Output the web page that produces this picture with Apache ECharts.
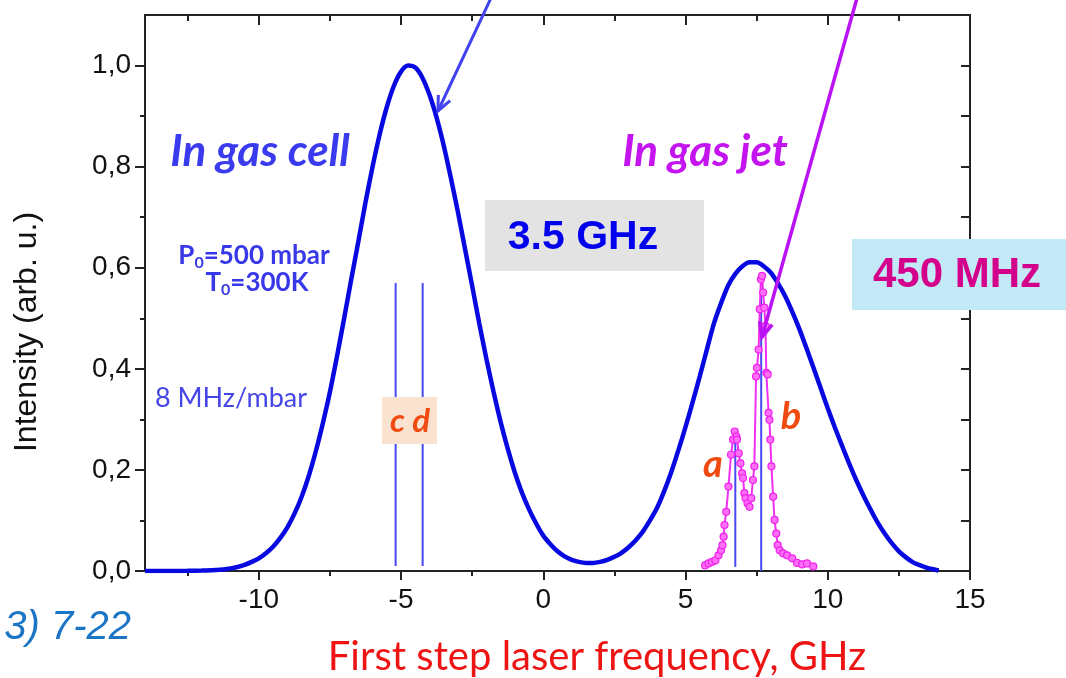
<!DOCTYPE html>
<html><head><meta charset="utf-8">
<script src="https://cdn.jsdelivr.net/npm/echarts@6/dist/echarts.min.js"></script>
<style>html,body{margin:0;padding:0;background:#fff;}#c{width:1066px;height:678px;}</style>
</head><body><div id="c"></div>
<script>
// ---- tick values ----
const xTicks = [-10, -5, 0, 5, 10, 15];
const xMinorTicks = [-12.5, -7.5, -2.5, 2.5, 7.5, 12.5];
const yTicks = [0, 0.2, 0.4, 0.6, 0.8, 1.0];
const yMinorTicks = [0.1, 0.3, 0.5, 0.7, 0.9];

// ---- gas cell profile (blue curve) ----
const cellX = [-14,-13.5,-13,-12.5,-12,-11.5,-11,-10.75,-10.5,-10.25,-10,-9.75,-9.5,-9.25,-9,-8.75,-8.5,-8.25,-8,-7.75,-7.5,-7.25,-7,-6.75,-6.5,-6.25,-6,-5.75,-5.5,-5.25,-5,-4.75,-4.5,-4.25,-4,-3.75,-3.5,-3.25,-3,-2.75,-2.5,-2.25,-2,-1.75,-1.5,-1.25,-1,-0.75,-0.5,-0.25,0,0.25,0.5,0.75,1,1.25,1.5,1.75,2,2.25,2.5,2.75,3,3.25,3.5,3.75,4,4.25,4.5,4.75,5,5.25,5.5,5.75,6,6.25,6.5,6.75,7,7.25,7.5,7.75,8,8.25,8.5,8.75,9,9.25,9.5,9.75,10,10.25,10.5,10.75,11,11.25,11.5,11.75,12,12.25,12.5,12.75,13,13.25,13.5,13.75,13.9];
const cellY = [0,0,0.0001,0.0003,0.001,0.002,0.005,0.008,0.012,0.018,0.025,0.035,0.048,0.065,0.086,0.113,0.146,0.187,0.236,0.292,0.354,0.425,0.50,0.577,0.652,0.729,0.80,0.864,0.918,0.960,0.988,1.0,0.996,0.976,0.942,0.897,0.842,0.778,0.71,0.637,0.564,0.49,0.42,0.355,0.295,0.242,0.195,0.155,0.122,0.094,0.07,0.053,0.039,0.029,0.022,0.018,0.016,0.016,0.018,0.022,0.028,0.036,0.047,0.061,0.078,0.10,0.125,0.158,0.196,0.239,0.285,0.334,0.385,0.438,0.49,0.53,0.565,0.588,0.603,0.611,0.611,0.603,0.59,0.569,0.544,0.513,0.479,0.441,0.402,0.362,0.322,0.284,0.248,0.213,0.18,0.15,0.122,0.096,0.074,0.055,0.039,0.027,0.017,0.011,0.006,0.003,0.001];

// ---- gas jet spectrum (magenta points) ----
const jetX = [5.69,5.81,5.93,6.05,6.16,6.25,6.30,6.34,6.37,6.43,6.51,6.60,6.67,6.73,6.79,6.81,6.87,6.93,6.99,7.02,7.07,7.11,7.18,7.25,7.31,7.37,7.42,7.48,7.51,7.57,7.61,7.65,7.69,7.73,7.77,7.81,7.84,7.89,7.92,7.95,7.98,8.02,8.08,8.13,8.19,8.24,8.31,8.43,8.57,8.75,8.92,9.10,9.27,9.49];
const jetY = [0.011,0.015,0.018,0.021,0.031,0.041,0.051,0.068,0.091,0.117,0.167,0.230,0.260,0.276,0.266,0.260,0.233,0.213,0.193,0.184,0.154,0.144,0.134,0.127,0.144,0.180,0.207,0.385,0.402,0.438,0.518,0.577,0.584,0.551,0.521,0.485,0.392,0.389,0.313,0.299,0.260,0.207,0.147,0.101,0.074,0.051,0.041,0.035,0.031,0.025,0.016,0.013,0.015,0.009];

// ---- transition markers a, b, c, d ----
const markerNames = ['a', 'b', 'c', 'd'];
const markerX = [6.75, 7.66, -5.19, -4.24];
const markerBottom = [0.008, 0.0, 0.01, 0.01];
const markerTop = [0.26, 0.55, 0.57, 0.57];

const chart = echarts.init(document.getElementById('c'), null, {renderer: 'canvas'});
const AX = '#222';
const TICKFONT = {fontFamily: 'Liberation Sans, Arial, sans-serif', fontSize: 28, color: '#111'};

function xAx(position, vals, len, inside, label) {
  return {
    type: 'value', position: position, min: -14, max: 15,
    axisLine: {show: true, onZero: false, lineStyle: {color: AX, width: 2}},
    axisTick: {show: true, customValues: vals, length: len, inside: inside, lineStyle: {color: AX, width: 2}},
    axisLabel: label ? Object.assign({show: true, customValues: vals, margin: 15}, TICKFONT) : {show: false},
    splitLine: {show: false}
  };
}
function yAx(position, vals, len, inside, label) {
  return {
    type: 'value', position: position, min: 0, max: 1.1,
    axisLine: {show: true, onZero: false, lineStyle: {color: AX, width: 2}},
    axisTick: {show: true, customValues: vals, length: len, inside: inside, lineStyle: {color: AX, width: 2}},
    axisLabel: label ? Object.assign({show: true, customValues: vals, margin: 14,
      formatter: v => v.toFixed(1).replace('.', ',')}, TICKFONT) : {show: false},
    splitLine: {show: false}
  };
}

const series = [];
markerX.forEach((x, i) => {
  series.push({
    type: 'line', name: markerNames[i], xAxisIndex: 0, yAxisIndex: 0,
    data: [[x, markerBottom[i]], [x, markerTop[i]]],
    showSymbol: false, symbol: 'none', silent: true, z: 3,
    lineStyle: {color: '#4848f4', width: 2}
  });
});
series.push({
  type: 'line', name: 'In gas cell', xAxisIndex: 0, yAxisIndex: 0,
  data: cellX.map((x, i) => [x, cellY[i]]),
  smooth: 0.3, symbol: 'none', z: 4,
  lineStyle: {color: '#0808e0', width: 4.5}
});
series.push({
  type: 'line', name: 'In gas jet', xAxisIndex: 0, yAxisIndex: 0,
  data: jetX.map((x, i) => [x, jetY[i]]),
  symbol: 'circle', symbolSize: 7, z: 5,
  itemStyle: {color: '#ff70f6', borderColor: '#f020ee', borderWidth: 1.2},
  lineStyle: {color: '#f030f0', width: 2}
});

function arrow(x1, y1, x2, y2, color, w) {
  const ang = Math.atan2(y2 - y1, x2 - x1), L = 16, a = 0.42;
  const p1 = [x2 - L * Math.cos(ang - a), y2 - L * Math.sin(ang - a)];
  const p2 = [x2 - L * Math.cos(ang + a), y2 - L * Math.sin(ang + a)];
  return [
    {type: 'line', z: 120, shape: {x1: x1, y1: y1, x2: x2, y2: y2}, style: {stroke: color, lineWidth: w}},
    {type: 'polyline', z: 120, shape: {points: [p1, [x2, y2], p2]}, style: {stroke: color, lineWidth: w, fill: null}}
  ];
}
function txt(x, y, text, font, fill, extra) {
  return Object.assign({type: 'text', x: x, y: y, z: 130,
    style: {text: text, font: font, fill: fill, align: 'center', verticalAlign: 'middle'}}, extra || {});
}

const LATO = 'Lato, "Open Sans", sans-serif';
const SUB = (t1, t2) => ({
  text: '{a|' + t1 + '}{s|0}{a|' + t2 + '}', align: 'center', verticalAlign: 'middle',
  rich: {a: {fontFamily: LATO, fontWeight: 'bold', fontSize: 26, fill: '#3838e8', lineHeight: 30},
         s: {fontFamily: LATO, fontWeight: 'bold', fontSize: 16, fill: '#3838e8', lineHeight: 15, verticalAlign: 'bottom'}}
});
const graphic = [].concat(
  [
    {type: 'rect', z: 110, shape: {x: 485, y: 200, width: 219, height: 71}, style: {fill: '#e3e3e3'}},
    {type: 'rect', z: 110, shape: {x: 852, y: 239, width: 214, height: 71}, style: {fill: '#c3e9f7'}},
    {type: 'rect', z: 110, shape: {x: 382, y: 397, width: 55, height: 47}, style: {fill: '#f9e2d0'}},
    txt(583, 238, '3.5 GHz', 'bold 41px "Liberation Sans", Arial, sans-serif', '#0000ee'),
    txt(957, 275, '450 MHz', 'bold 42px "Liberation Sans", Arial, sans-serif', '#d4008c'),
    txt(260, 152, 'In gas cell', 'italic bold 44px ' + LATO, '#3a3aee'),
    txt(705, 152, 'In gas jet', 'italic bold 44px ' + LATO, '#c414f0'),
    txt(231, 398, '8 MHz/mbar', '27px ' + LATO, '#4646e6'),
    {type: 'text', x: 254, y: 256, z: 130, style: SUB('P', '=500 mbar')},
    {type: 'text', x: 257, y: 283, z: 130, style: SUB('T', '=300K')},
    txt(410, 421, 'c d', 'italic bold 33px ' + LATO, '#f04a10'),
    txt(713, 465, 'a', 'italic bold 38px ' + LATO, '#f04a10'),
    txt(791, 417, 'b', 'italic bold 38px ' + LATO, '#f04a10'),
    txt(597, 657, 'First step laser frequency, GHz', '40px ' + LATO, '#ee1414'),
    txt(27, 332, 'Intensity (arb. u.)', '32px "Liberation Sans", Arial, sans-serif', '#111', {rotation: Math.PI / 2}),
    {type: 'text', x: 131, y: 628, z: 130, style: {text: '3) 7-22', font: 'italic 40px "Liberation Sans", Arial, sans-serif',
      fill: '#1b74c4', align: 'right', verticalAlign: 'middle'}}
  ],
  arrow(491, -2, 438, 111, '#4242ee', 3),
  arrow(857, -2, 762, 337, '#bb11f5', 3.5)
);

chart.setOption({
  animation: false,
  backgroundColor: '#fff',
  grid: {left: 145, right: 96, top: 15, height: 556, containLabel: false},
  xAxis: [
    xAx('bottom', xTicks, 9, false, true),
    xAx('bottom', xMinorTicks, 5, false, false),
    xAx('top', xTicks, 10, true, false),
    xAx('top', xMinorTicks, 6, true, false)
  ],
  yAxis: [
    yAx('left', yTicks, 10, false, true),
    yAx('left', yMinorTicks, 5, false, false),
    yAx('right', yTicks, 9, true, false),
    yAx('right', yMinorTicks, 9, true, false)
  ],
  series: series,
  graphic: graphic
});
</script></body></html>
